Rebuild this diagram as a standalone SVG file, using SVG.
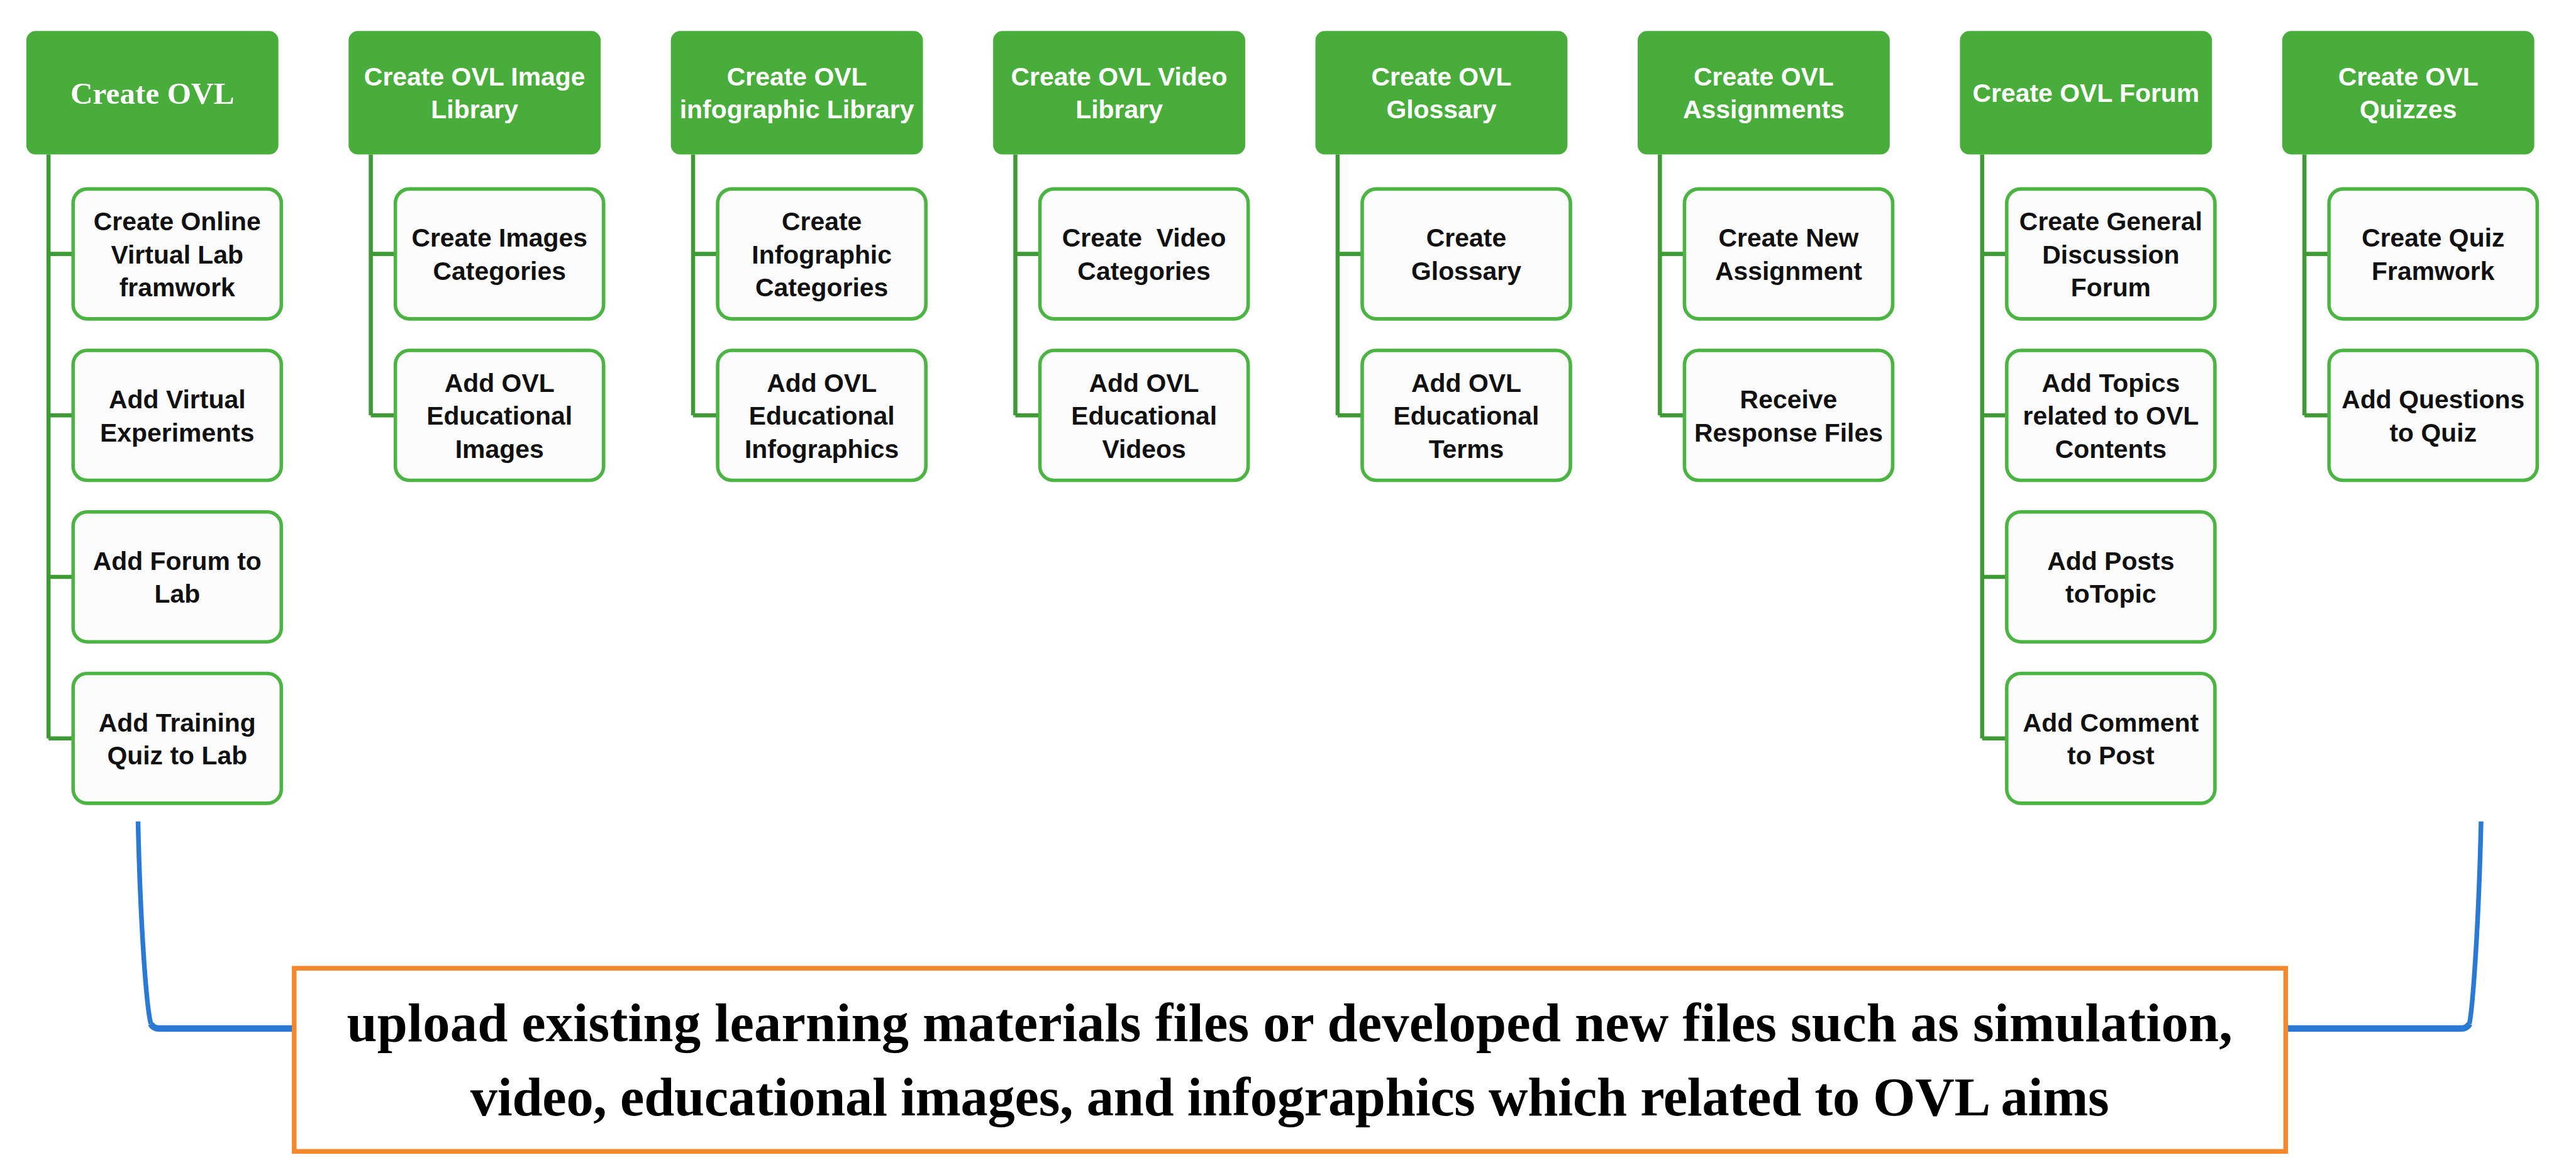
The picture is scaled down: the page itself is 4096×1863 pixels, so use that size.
<svg xmlns="http://www.w3.org/2000/svg" width="4096" height="1863" viewBox="0 0 4096 1863">
<style>
.hdr{fill:#49ad3b;}
.hdr-t{fill:#ffffff;font-family:"Liberation Sans",Arial,sans-serif;font-weight:bold;font-size:44px;text-anchor:middle;}
.hdr-s{fill:#ffffff;font-family:"Liberation Serif","Times New Roman",serif;font-weight:bold;font-size:53px;text-anchor:middle;}
.box{fill:#fcfcfc;stroke:#4cb443;stroke-width:6;}
.box-t{fill:#111111;font-family:"Liberation Sans",Arial,sans-serif;font-weight:bold;font-size:44px;text-anchor:middle;}
.tree{fill:none;stroke:#3d9a35;stroke-width:7;}
.brace{fill:none;stroke:#2a7ad5;stroke-linejoin:round;}
.note{fill:#ffffff;stroke:#f5882c;stroke-width:8;}
.note-t{fill:#000000;font-family:"Liberation Serif","Times New Roman",serif;font-weight:bold;font-size:93px;text-anchor:middle;}
</style>
<rect width="4096" height="1863" fill="#ffffff"/>
<g transform="scale(0.93)">
<g id="connectors">
<path class="tree" d="M83 264 V1262 M83 434 H125 M83 710 H125 M83 986 H125 M83 1262 H125"/>
<path class="tree" d="M634 264 V710 M634 434 H676 M634 710 H676"/>
<path class="tree" d="M1185 264 V710 M1185 434 H1227 M1185 710 H1227"/>
<path class="tree" d="M1736 264 V710 M1736 434 H1778 M1736 710 H1778"/>
<path class="tree" d="M2287 264 V710 M2287 434 H2329 M2287 710 H2329"/>
<path class="tree" d="M2838 264 V710 M2838 434 H2880 M2838 710 H2880"/>
<path class="tree" d="M3389 264 V1262 M3389 434 H3431 M3389 710 H3431 M3389 986 H3431 M3389 1262 H3431"/>
<path class="tree" d="M3940 264 V710 M3940 434 H3982 M3940 710 H3982"/>
<path class="brace" stroke-width="8" d="M236 1404 C240 1580 250 1720 258 1750"/>
<path class="brace" stroke-width="11" d="M258 1750 Q262 1758 272 1758 H503"/>
<path class="brace" stroke-width="8" d="M4242 1404 C4238 1580 4228 1720 4222 1750"/>
<path class="brace" stroke-width="11" d="M4222 1750 Q4218 1758 4208 1758 H3908"/>
</g>

<g id="col1-header"><rect class="hdr" x="45" y="53" width="431" height="211" rx="16"/><text class="hdr-s" x="260.5" y="177">Create OVL</text></g>
<g id="col1-n1"><rect class="box" x="125" y="323" width="356" height="222" rx="24"/><text class="box-t" x="303" y="393.5">Create Online</text><text class="box-t" x="303" y="450">Virtual Lab</text><text class="box-t" x="303" y="506.5">framwork</text></g>
<g id="col1-n2"><rect class="box" x="125" y="599" width="356" height="222" rx="24"/><text class="box-t" x="303" y="698">Add Virtual</text><text class="box-t" x="303" y="754.5">Experiments</text></g>
<g id="col1-n3"><rect class="box" x="125" y="875" width="356" height="222" rx="24"/><text class="box-t" x="303" y="974">Add Forum to</text><text class="box-t" x="303" y="1030.5">Lab</text></g>
<g id="col1-n4"><rect class="box" x="125" y="1151" width="356" height="222" rx="24"/><text class="box-t" x="303" y="1250">Add Training</text><text class="box-t" x="303" y="1306.5">Quiz to Lab</text></g>

<g id="col2-header"><rect class="hdr" x="596" y="53" width="431" height="211" rx="16"/><text class="hdr-t" x="811.5" y="146.5">Create OVL Image</text><text class="hdr-t" x="811.5" y="202.5">Library</text></g>
<g id="col2-n1"><rect class="box" x="676" y="323" width="356" height="222" rx="24"/><text class="box-t" x="854" y="422">Create Images</text><text class="box-t" x="854" y="478.5">Categories</text></g>
<g id="col2-n2"><rect class="box" x="676" y="599" width="356" height="222" rx="24"/><text class="box-t" x="854" y="669.5">Add OVL</text><text class="box-t" x="854" y="726">Educational</text><text class="box-t" x="854" y="782.5">Images</text></g>

<g id="col3-header"><rect class="hdr" x="1147" y="53" width="431" height="211" rx="16"/><text class="hdr-t" x="1362.5" y="146.5">Create OVL</text><text class="hdr-t" x="1362.5" y="202.5">infographic Library</text></g>
<g id="col3-n1"><rect class="box" x="1227" y="323" width="356" height="222" rx="24"/><text class="box-t" x="1405" y="393.5">Create</text><text class="box-t" x="1405" y="450">Infographic</text><text class="box-t" x="1405" y="506.5">Categories</text></g>
<g id="col3-n2"><rect class="box" x="1227" y="599" width="356" height="222" rx="24"/><text class="box-t" x="1405" y="669.5">Add OVL</text><text class="box-t" x="1405" y="726">Educational</text><text class="box-t" x="1405" y="782.5">Infographics</text></g>

<g id="col4-header"><rect class="hdr" x="1698" y="53" width="431" height="211" rx="16"/><text class="hdr-t" x="1913.5" y="146.5">Create OVL Video</text><text class="hdr-t" x="1913.5" y="202.5">Library</text></g>
<g id="col4-n1"><rect class="box" x="1778" y="323" width="356" height="222" rx="24"/><text class="box-t" x="1956" y="422" xml:space="preserve">Create  Video</text><text class="box-t" x="1956" y="478.5">Categories</text></g>
<g id="col4-n2"><rect class="box" x="1778" y="599" width="356" height="222" rx="24"/><text class="box-t" x="1956" y="669.5">Add OVL</text><text class="box-t" x="1956" y="726">Educational</text><text class="box-t" x="1956" y="782.5">Videos</text></g>

<g id="col5-header"><rect class="hdr" x="2249" y="53" width="431" height="211" rx="16"/><text class="hdr-t" x="2464.5" y="146.5">Create OVL</text><text class="hdr-t" x="2464.5" y="202.5">Glossary</text></g>
<g id="col5-n1"><rect class="box" x="2329" y="323" width="356" height="222" rx="24"/><text class="box-t" x="2507" y="422">Create</text><text class="box-t" x="2507" y="478.5">Glossary</text></g>
<g id="col5-n2"><rect class="box" x="2329" y="599" width="356" height="222" rx="24"/><text class="box-t" x="2507" y="669.5">Add OVL</text><text class="box-t" x="2507" y="726">Educational</text><text class="box-t" x="2507" y="782.5">Terms</text></g>

<g id="col6-header"><rect class="hdr" x="2800" y="53" width="431" height="211" rx="16"/><text class="hdr-t" x="3015.5" y="146.5">Create OVL</text><text class="hdr-t" x="3015.5" y="202.5">Assignments</text></g>
<g id="col6-n1"><rect class="box" x="2880" y="323" width="356" height="222" rx="24"/><text class="box-t" x="3058" y="422">Create New</text><text class="box-t" x="3058" y="478.5">Assignment</text></g>
<g id="col6-n2"><rect class="box" x="2880" y="599" width="356" height="222" rx="24"/><text class="box-t" x="3058" y="698">Receive</text><text class="box-t" x="3058" y="754.5">Response Files</text></g>

<g id="col7-header"><rect class="hdr" x="3351" y="53" width="431" height="211" rx="16"/><text class="hdr-t" x="3566.5" y="174.5">Create OVL Forum</text></g>
<g id="col7-n1"><rect class="box" x="3431" y="323" width="356" height="222" rx="24"/><text class="box-t" x="3609" y="393.5">Create General</text><text class="box-t" x="3609" y="450">Discussion</text><text class="box-t" x="3609" y="506.5">Forum</text></g>
<g id="col7-n2"><rect class="box" x="3431" y="599" width="356" height="222" rx="24"/><text class="box-t" x="3609" y="669.5">Add Topics</text><text class="box-t" x="3609" y="726">related to OVL</text><text class="box-t" x="3609" y="782.5">Contents</text></g>
<g id="col7-n3"><rect class="box" x="3431" y="875" width="356" height="222" rx="24"/><text class="box-t" x="3609" y="974">Add Posts</text><text class="box-t" x="3609" y="1030.5">toTopic</text></g>
<g id="col7-n4"><rect class="box" x="3431" y="1151" width="356" height="222" rx="24"/><text class="box-t" x="3609" y="1250">Add Comment</text><text class="box-t" x="3609" y="1306.5">to Post</text></g>

<g id="col8-header"><rect class="hdr" x="3902" y="53" width="431" height="211" rx="16"/><text class="hdr-t" x="4117.5" y="146.5">Create OVL</text><text class="hdr-t" x="4117.5" y="202.5">Quizzes</text></g>
<g id="col8-n1"><rect class="box" x="3982" y="323" width="356" height="222" rx="24"/><text class="box-t" x="4160" y="422">Create Quiz</text><text class="box-t" x="4160" y="478.5">Framwork</text></g>
<g id="col8-n2"><rect class="box" x="3982" y="599" width="356" height="222" rx="24"/><text class="box-t" x="4160" y="698">Add Questions</text><text class="box-t" x="4160" y="754.5">to Quiz</text></g>

<g id="summary"><rect class="note" x="503" y="1655" width="3405" height="313"/><text class="note-t" x="2205" y="1780" textLength="3224" lengthAdjust="spacing">upload existing learning materials files or developed new files such as simulation,</text><text class="note-t" x="2205" y="1906" textLength="2802" lengthAdjust="spacing">video, educational images, and infographics which related to OVL aims</text></g>
</g>
</svg>
